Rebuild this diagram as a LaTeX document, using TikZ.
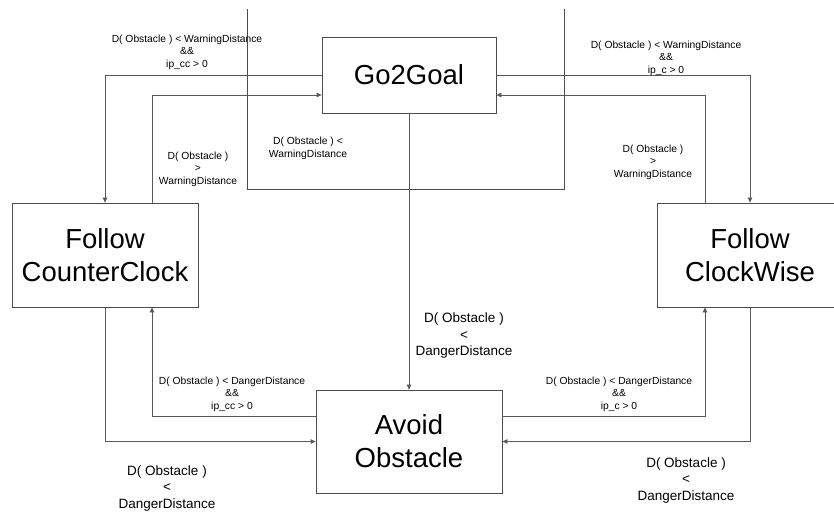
\documentclass[tikz,border=0pt]{standalone}
\usepackage{fontspec}
\setmainfont{Liberation Sans}
\usetikzlibrary{arrows.meta}
\tikzset{
  state/.style={draw=black!70, line width=0.8pt, minimum width=186pt, minimum height=104pt, inner sep=0pt, align=center, font=\fontsize{27.5}{33}\selectfont},
  trans/.style={draw=black!65, line width=0.8pt, -{Triangle[length=5pt,width=4.5pt]}},
  cond/.style={align=center, inner sep=0pt, font=\fontsize{10.3}{12.5}\selectfont},
  condbig/.style={align=center, inner sep=0pt, font=\fontsize{13.5}{16.5}\selectfont}
}

\begin{document}
\begin{tikzpicture}[x=1pt,y=-1pt]
		%%%%% START %%%%%
		\useasboundingbox (0,0) rectangle (834,512);
		\clip (0,0) rectangle (834,512);
		\fill[white] (0,0) rectangle (834,512);
		
		\node[state, minimum width=174pt, minimum height=76pt] (goal) at (409,75) {Go2Goal};
		\node[state] (ccw) at (105,255) {Follow\\CounterClock};
		\node[state] (cw) at (750,255) {Follow\\ClockWise};
		\node[state, minimum height=103pt] (avoid) at (409,441.5) {Avoid\\Obstacle};
		
		%% loop on Go2Goal, runs off the top
		\coordinate (loopa) at (247,9);
		\coordinate (loopb) at (564,9);
		\draw[draw=black!70, line width=0.8pt] (loopa) -- (247,189) -- (564,189) -- (loopb);
		\node[cond] (lloop) at (308,148.5) {D( Obstacle ) <\\WarningDistance};
		
		%% Go2Goal <-> followers
		\draw[trans] (goal.west) -| (ccw.north);
		\draw[trans] ([xshift=47pt]ccw.north) |- ([yshift=-20pt]goal.west);
		\draw[trans] (goal.east) -| (cw.north);
		\draw[trans] ([xshift=-45pt]cw.north) |- ([yshift=-20pt]goal.east);
		\node[cond] (lgccw) at (187,52) {D( Obstacle ) < WarningDistance\\\&\&\\ip\_cc > 0};
		\node[cond] (lgcw) at (666,58) {D( Obstacle ) < WarningDistance\\\&\&\\ip\_c > 0};
		\node[cond] (lccwg) at (198,169) {D( Obstacle )\\>\\WarningDistance};
		\node[cond] (lcwg) at (653,162) {D( Obstacle )\\>\\WarningDistance};
		
		%% Go2Goal -> Avoid
		\draw[trans] (goal.south) -- (avoid.north);
		\node[condbig] (lga) at (464,336) {D( Obstacle )\\<\\DangerDistance};
		
		%% Avoid <-> followers
		\draw[trans] ([yshift=25.5pt]avoid.west) -| ([xshift=47pt]ccw.south);
		\draw[trans] (ccw.south) |- (avoid.west);
		\draw[trans] ([yshift=25.5pt]avoid.east) -| ([xshift=-45pt]cw.south);
		\draw[trans] (cw.south) |- (avoid.east);
		\node[cond] (laccw) at (232,394) {D( Obstacle ) < DangerDistance\\\&\&\\ip\_cc > 0};
		\node[cond] (lacw) at (619,394) {D( Obstacle ) < DangerDistance\\\&\&\\ip\_c > 0};
		\node[condbig] (lccwa) at (167,488) {D( Obstacle )\\<\\DangerDistance};
		\node[condbig] (lcwa) at (686,480) {D( Obstacle )\\<\\DangerDistance};
		
		%%%%% END %%%%%
\end{tikzpicture}
\end{document}
